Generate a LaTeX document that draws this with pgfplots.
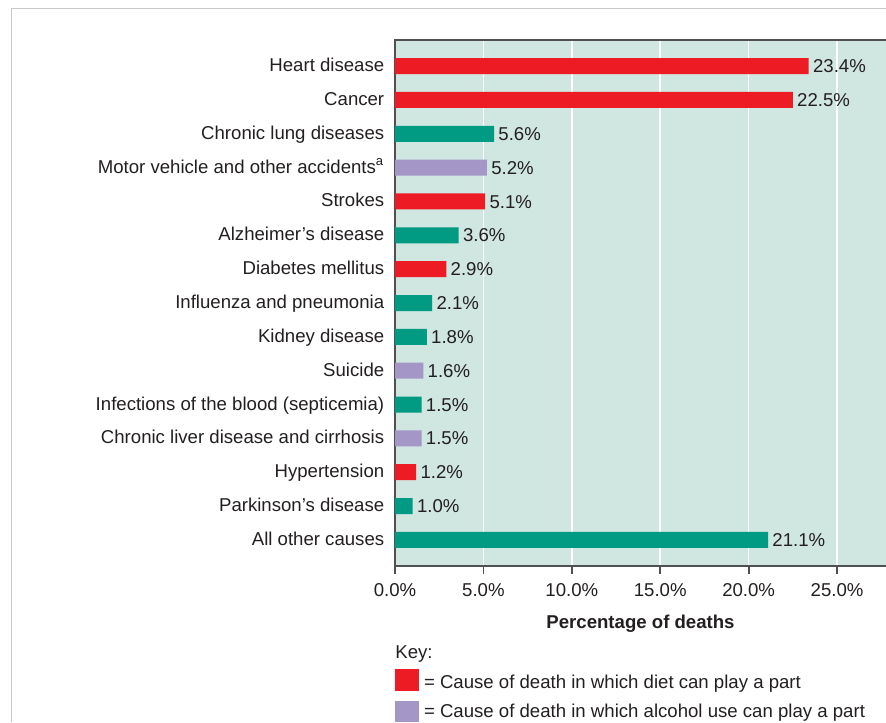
\documentclass[border=0pt]{standalone}
\usepackage{pgfplots}
\pgfplotsset{compat=1.18}
\usepackage{pgfplotstable}
\usepackage{fontspec}
\setmainfont{Liberation Sans}
\definecolor{dietred}{RGB}{237,28,36}
\definecolor{tealbar}{RGB}{0,155,130}
\definecolor{alcpurple}{RGB}{165,150,200}
\definecolor{bgteal}{RGB}{208,230,224}
\definecolor{axgray}{RGB}{80,80,80}
\definecolor{framegray}{RGB}{200,200,200}
\definecolor{txt}{RGB}{35,31,32}

% y = category position (14 = top row, 0 = bottom row)
\pgfplotstableread{
y v
14 23.4
13 22.5
10 5.1
8 2.9
2 1.2
}\dietdata
\pgfplotstableread{
y v
11 5.2
5 1.6
3 1.5
}\alcdata
\pgfplotstableread{
y v
12 5.6
9 3.6
7 2.1
6 1.8
4 1.5
1 1.0
0 21.1
}\otherdata

\begin{document}
\fontsize{9.3}{11}\selectfont
\color{txt}
\begin{tikzpicture}
\useasboundingbox (0,0) rectangle (443pt,-361pt);
\draw[framegray, line width=0.75pt] (5.85pt,-361pt) -- (5.85pt,-4.15pt) -- (443pt,-4.15pt);
\begin{axis}[
  at={(197.5pt,-283pt)}, anchor=south west,
  scale only axis,
  width=247pt, height=263pt,
  xmin=0, xmax=27.94,
  ymin=-0.77, ymax=14.77,
  axis background/.style={fill=bgteal},
  axis line style={axgray, line width=0.8pt},
  xbar, bar width=8pt, bar shift=0pt,
  xtick={0,5,10,15,20,25},
  xticklabels={0.0\%,5.0\%,10.0\%,15.0\%,20.0\%,25.0\%},
  xtick pos=lower,
  xtick align=outside,
  major tick length=3.5pt,
  xtick style={draw=axgray, line width=0.9pt},
  xmajorgrids,
  grid style={white, line width=0.75pt},
  ytick={0,...,14},
  yticklabels={All other causes,Parkinson’s disease,Hypertension,Chronic liver disease and cirrhosis,Infections of the blood (septicemia),Suicide,Kidney disease,Influenza and pneumonia,Diabetes mellitus,Alzheimer’s disease,Strokes,Motor vehicle and other accidents\textsuperscript{a},Chronic lung diseases,Cancer,Heart disease},
  ytick style={draw=none},
  ytick pos=left,
  yticklabel style={anchor=base east, inner sep=0pt, xshift=-1.7pt, yshift=-2.75pt, font=\fontsize{9.3}{11}\selectfont, text=txt},
  xticklabel style={anchor=base, inner sep=0pt, yshift=-11.5pt, font=\fontsize{9.3}{11}\selectfont, text=txt},
  xlabel={\bfseries Percentage of deaths},
  xlabel style={at={(axis description cs:0.497,0)}, anchor=base, inner sep=0pt, yshift=-31pt, font=\fontsize{9.3}{11}\selectfont, text=txt},
  /pgf/number format/assume math mode=true,
  point meta=x,
  nodes near coords={\pgfmathprintnumber[fixed,fixed zerofill,precision=1]{\pgfplotspointmeta}\%},
  every node near coord/.append style={anchor=base west, inner sep=0pt, xshift=2pt, yshift=-3.3pt, font=\fontsize{9.3}{11}\selectfont, text=txt},
  clip=false,
]
\addplot[fill=dietred, draw=none] table[x=v,y=y]{\dietdata};
\addplot[fill=alcpurple, draw=none] table[x=v,y=y]{\alcdata};
\addplot[fill=tealbar, draw=none] table[x=v,y=y]{\otherdata};
\end{axis}
% tick marks below the x axis (every 5 %, 44.2pt apart)
\foreach \k in {0,...,5}{
  \draw[axgray, line width=0.9pt] ({197.5pt+44.2pt*\k},-282.6pt) -- ({197.5pt+44.2pt*\k},-286.8pt);
}
\node[anchor=base west, inner sep=0pt] at (197.5pt,-329.15pt) {Key:};
\fill[dietred] (197.5pt,-334.5pt) rectangle (209.5pt,-345.5pt);
\node[anchor=base west, inner sep=0pt] at (211.8pt,-344.15pt) {= Cause of death in which diet can play a part};
\fill[alcpurple] (197.5pt,-350.5pt) rectangle (209.5pt,-361pt);
\node[anchor=base west, inner sep=0pt] at (211.8pt,-358.65pt) {= Cause of death in which alcohol use can play a part};
\end{tikzpicture}
\end{document}
